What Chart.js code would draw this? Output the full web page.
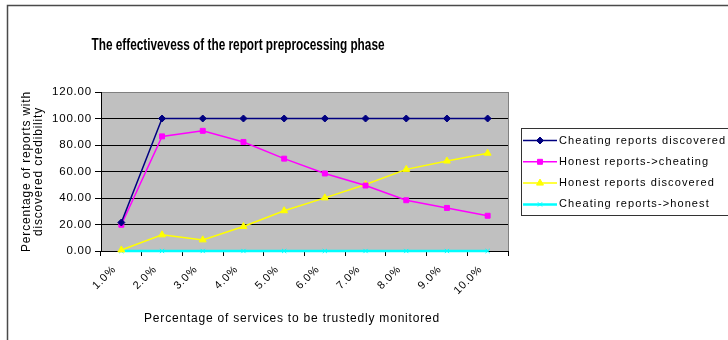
<!DOCTYPE html>
<html>
<head>
<meta charset="utf-8">
<script src="https://cdn.jsdelivr.net/npm/chart.js@4/dist/chart.umd.min.js"></script>
<style>
  html, body { margin: 0; padding: 0; background: #fff; }
  #wrap { width: 728px; height: 340px; }
</style>
</head>
<body>
<div id="wrap"><canvas id="c" width="728" height="340"></canvas></div>
<script>
// Share of monitored services (x categories)
const categories = ['1.0%', '2.0%', '3.0%', '4.0%', '5.0%', '6.0%', '7.0%', '8.0%', '9.0%', '10.0%'];

// Percentage of reports with discovered credibility, per series
const cheatingDiscovered = [21.5, 100, 100, 100, 100, 100, 100, 100, 100, 100];
const honestToCheating   = [19.8, 86.5, 90.7, 82.3, 69.7, 58.5, 49.4, 38.3, 32.5, 26.6];
const honestDiscovered   = [0.8, 12.2, 8.4, 18.5, 30.4, 40.1, 50.2, 61.6, 67.9, 73.8];
const cheatingToHonest   = [0, 0, 0, 0, 0, 0, 0, 0, 0, 0];

const seriesNames = [
  'Cheating reports discovered',
  'Honest reports->cheating',
  'Honest reports discovered',
  'Cheating reports->honest'
];

// Y-axis tick values
const yTicks = [0, 20, 40, 60, 80, 100, 120];

const chartTitle = 'The effectivevess of the report preprocessing phase';
const xTitle = 'Percentage of services to be trustedly monitored';
const yTitle = ['Percentage of reports with', 'discovered credibility'];

const FONT = 'Arial, "Liberation Sans", sans-serif';

// White page, outer frame, gray plot area and the title
const framePlugin = {
  id: 'frame',
  beforeDraw(chart) {
    const { ctx, chartArea: a } = chart;
    ctx.save();
    ctx.fillStyle = '#fff';
    ctx.fillRect(0, 0, chart.width, chart.height);

    ctx.strokeStyle = '#4a4a4a';
    ctx.lineWidth = 1.5;
    ctx.beginPath();
    ctx.moveTo(7.5, chart.height);
    ctx.lineTo(7.5, 5.5);
    ctx.lineTo(chart.width, 5.5);
    ctx.stroke();

    ctx.fillStyle = '#c0c0c0';
    ctx.fillRect(a.left, a.top, a.right - a.left, a.bottom - a.top);
    ctx.strokeStyle = '#808080';
    ctx.lineWidth = 1;
    ctx.strokeRect(Math.round(a.left) + 0.5, Math.round(a.top) + 0.5,
                   Math.round(a.right - a.left), Math.round(a.bottom - a.top));

    // condensed bold heading
    ctx.fillStyle = '#000';
    ctx.letterSpacing = '0px';
    ctx.font = 'bold 16px "Liberation Sans Narrow", "Arial Narrow", Arial, sans-serif';
    ctx.textAlign = 'center';
    ctx.textBaseline = 'middle';
    ctx.fillText(chartTitle, 238, 46, 293);

    // x-axis caption
    ctx.letterSpacing = '0.8px';
    ctx.font = '12px ' + FONT;
    ctx.fillText(xTitle, 292, 319);
    ctx.restore();

    // slightly tracked-out lettering for the axis texts drawn after this
    ctx.letterSpacing = '0.8px';
  }
};

// Boxed legend with a line sample and marker for each series
const legendPlugin = {
  id: 'boxLegend',
  afterDraw(chart) {
    const ctx = chart.ctx;
    const x0 = 521, y0 = 128, h = 87;
    ctx.save();
    ctx.fillStyle = '#fff';
    ctx.fillRect(x0, y0, chart.width - x0 + 5, h);
    ctx.strokeStyle = '#333';
    ctx.lineWidth = 1;
    ctx.strokeRect(x0 + 0.5, y0 + 0.5, chart.width, h);

    chart.data.datasets.forEach((ds, i) => {
      const y = y0 + 12.5 + i * 21.3;
      ctx.strokeStyle = ds.borderColor;
      ctx.lineWidth = ds.borderWidth;
      ctx.beginPath();
      ctx.moveTo(523, y);
      ctx.lineTo(557, y);
      ctx.stroke();
      ctx.fillStyle = ds.backgroundColor;
      ctx.lineWidth = ds.pointBorderWidth || 1;
      Chart.helpers.drawPoint(ctx, {
        pointStyle: ds.pointStyle,
        radius: ds.pointRadius,
        rotation: 0,
        borderWidth: ds.pointBorderWidth || 1
      }, 540, y);

      ctx.fillStyle = '#000';
      ctx.font = '11px ' + FONT;
      ctx.letterSpacing = '1.1px';
      ctx.textAlign = 'left';
      ctx.textBaseline = 'middle';
      ctx.fillText(ds.label, 559, y);
    });
    ctx.restore();
  }
};

const seriesValues = [cheatingDiscovered, honestToCheating, honestDiscovered, cheatingToHonest];
const seriesColors = ['#000080', '#ff00ff', '#ffff00', '#00ffff'];
const seriesMarkers = ['rectRot', 'rect', 'triangle', 'crossRot'];
const seriesMarkerSize = [3.5, 3.5, 4, 3];
const seriesLineWidth = [1.5, 1.5, 1.5, 2.5];

const datasets = seriesNames.map((name, i) => ({
  label: name,
  data: seriesValues[i],
  borderColor: seriesColors[i],
  backgroundColor: seriesColors[i],
  pointStyle: seriesMarkers[i],
  pointRadius: seriesMarkerSize[i],
  pointBorderWidth: 1,
  borderWidth: seriesLineWidth[i],
  tension: 0,
  clip: false
}));

new Chart(document.getElementById('c'), {
  type: 'line',
  data: { labels: categories, datasets },
  options: {
    responsive: false,
    animation: false,
    devicePixelRatio: 1,
    layout: { padding: { top: 92, right: 220, bottom: 0, left: 0 } },
    plugins: {
      legend: { display: false },
      title: { display: false },
      tooltip: { enabled: false }
    },
    scales: {
      x: {
        type: 'category',
        offset: true,
        grid: {
          offset: true,
          drawOnChartArea: false,
          color: '#000',
          tickColor: '#000',
          tickLength: 5
        },
        border: { color: '#000', width: 1 },
        ticks: {
          autoSkip: false,
          minRotation: 45,
          maxRotation: 45,
          padding: 7,
          labelOffset: -7,
          color: '#000',
          font: { family: FONT, size: 11 }
        },
        title: { display: false },
        afterFit(scale) { scale.height = 89; }
      },
      y: {
        min: 0,
        max: 120,
        afterBuildTicks(scale) { scale.ticks = yTicks.map(v => ({ value: v })); },
        ticks: {
          padding: 3,
          color: '#000',
          font: { family: FONT, size: 11.5 },
          callback: v => Number(v).toFixed(2)
        },
        grid: {
          color: c => (c.tick && c.tick.value === 120 ? '#808080' : '#000'),
          tickColor: '#000',
          tickLength: 6,
          lineWidth: 1
        },
        border: { color: '#000', width: 1 },
        title: {
          display: true,
          text: yTitle,
          color: '#000',
          font: { family: FONT, size: 12, lineHeight: 1.0 },
          padding: { top: 21, bottom: 0 }
        },
        afterFit(scale) { scale.width = 101; }
      }
    }
  },
  plugins: [framePlugin, legendPlugin]
});
</script>
</body>
</html>
